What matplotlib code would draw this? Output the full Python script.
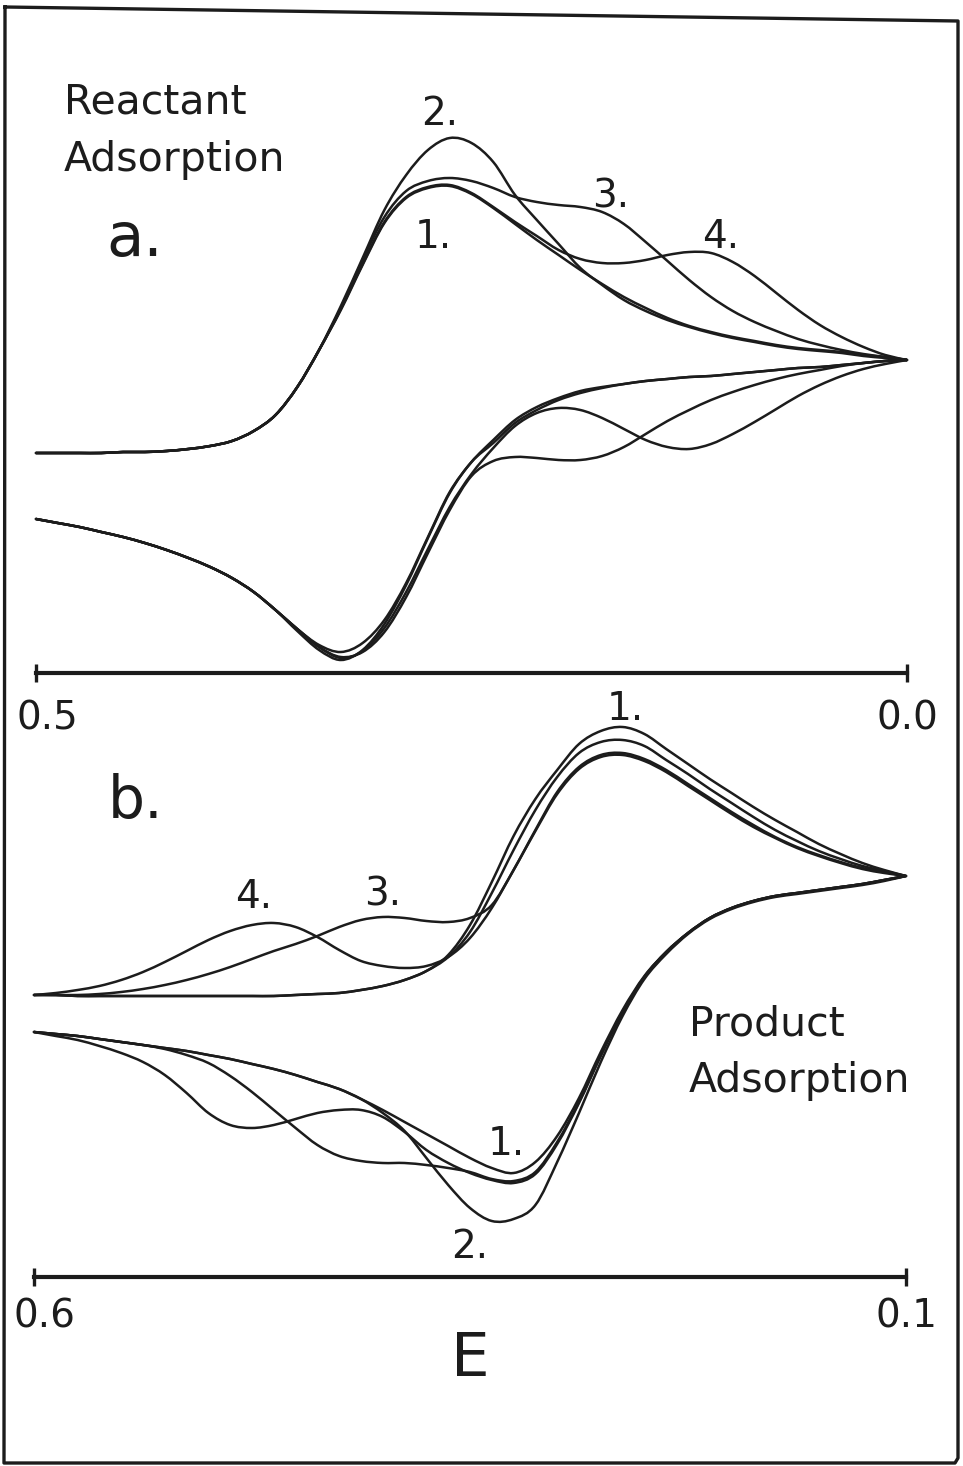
import numpy as np
import matplotlib
matplotlib.use("Agg")
import matplotlib.pyplot as plt
from matplotlib.lines import Line2D
from matplotlib.path import Path
from matplotlib.patches import PathPatch

plt.rcParams["font.family"] = ["DejaVu Sans"]

W, H, DPI = 963, 1466, 100
INK = "#1c1c1c"

# ---------------------------------------------------------------------------
# Potential sweep grids (V)
E_a = np.linspace(0.5, 0.0, 41)
E_b = np.linspace(0.6, 0.1, 41)

# (a) Reactant adsorption: current (arbitrary units), forward sweep 0.5 -> 0.0
a_fwd_1 = [-93, -93, -93, -93, -92, -92, -91, -89, -86, -81, -71, -55, -27, 10, 50, 95, 137, 162, 172, 174,
           166, 152, 136, 120, 105, 90, 76, 63, 52, 42, 34, 28, 23, 19, 15, 12, 10, 8, 5, 3, 0]
a_fwd_2 = [-93, -93, -93, -93, -92, -92, -91, -89, -86, -81, -71, -55, -27, 10, 54, 102, 150, 185, 210, 222,
           217, 198, 165, 140, 116, 92, 75, 60, 49, 40, 33, 27, 22, 18, 14, 11, 9, 7, 4, 2, 0]
a_fwd_3 = [-93, -93, -93, -93, -92, -92, -91, -89, -86, -81, -71, -55, -27, 10, 52, 100, 143, 169, 179, 182,
           179, 172, 163, 158, 155, 153, 148, 136, 118, 99, 80, 63, 49, 38, 29, 21, 15, 10, 6, 3, 0]
a_fwd_4 = [-93, -93, -93, -93, -92, -92, -91, -89, -86, -81, -71, -55, -27, 10, 51, 96, 138, 163, 173, 175,
           167, 153, 138, 124, 110, 101, 97, 97, 100, 105, 108, 107, 98, 84, 67, 50, 35, 23, 13, 5, 0]
# reverse sweep, listed on the same grid (0.5 -> 0.0)
a_rev_1 = [-159, -163, -167, -172, -177, -183, -190, -198, -207, -218, -232, -250, -269, -285, -292, -283,
           -260, -223, -177, -132, -102, -80, -60, -47, -38, -31, -27, -24, -21, -19, -17, -16, -14, -12,
           -10, -8, -7, -5, -3, -1, 0]
a_rev_2 = [-159, -163, -167, -172, -177, -183, -190, -198, -207, -218, -232, -250, -271, -290, -300, -290,
           -264, -225, -178, -133, -102, -83, -63, -50, -40, -33, -28, -24, -21, -19, -17, -16, -14, -12,
           -10, -8, -7, -5, -3, -1, 0]
a_rev_3 = [-159, -163, -167, -172, -177, -183, -190, -198, -207, -218, -232, -250, -269, -287, -297, -292,
           -272, -237, -193, -150, -116, -101, -97, -98, -100, -100, -96, -87, -74, -61, -50, -40, -32, -25,
           -19, -14, -10, -6, -3, -1, 0]
a_rev_4 = [-159, -163, -167, -172, -177, -183, -190, -198, -207, -218, -232, -250, -269, -287, -298, -291,
           -268, -232, -189, -147, -114, -88, -66, -53, -48, -50, -58, -69, -80, -87, -89, -84, -74, -62,
           -49, -36, -25, -16, -9, -4, 0]

# (b) Product adsorption: forward sweep 0.6 -> 0.1
b_fwd_1 = [-119, -119, -120, -120, -120, -120, -120, -120, -120, -120, -120, -120, -119, -118, -117, -114,
           -110, -104, -95, -79, -49, -6, 40, 77, 106, 132, 145, 149, 142, 127, 112, 97, 83, 69, 56, 44, 32,
           22, 13, 6, 0]
b_fwd_2 = [-119, -119, -120, -120, -120, -120, -120, -120, -120, -120, -120, -120, -119, -118, -117, -114,
           -110, -104, -95, -81, -56, -17, 26, 66, 99, 123, 134, 136, 130, 116, 102, 87, 73, 59, 46, 35, 25,
           17, 10, 5, 0]
b_fwd_3 = [-119, -119, -119, -118, -116, -113, -109, -104, -98, -91, -83, -75, -68, -60, -51, -44, -41, -42,
           -45, -46, -42, -29, 6, 46, 84, 109, 121, 123, 117, 106, 92, 78, 64, 51, 39, 29, 21, 14, 8, 4, 0]
b_fwd_4 = [-119, -117, -114, -110, -104, -96, -86, -75, -64, -55, -49, -47, -51, -61, -74, -85, -90, -92,
           -90, -81, -62, -32, 6, 45, 82, 107, 119, 121, 115, 104, 90, 76, 62, 49, 38, 28, 20, 13, 7, 3, 0]
b_rev_1 = [-156, -158, -160, -163, -166, -169, -172, -175, -179, -183, -188, -193, -199, -206, -213, -223,
           -234, -246, -258, -270, -282, -292, -297, -286, -260, -222, -176, -134, -100, -76, -57, -42, -32,
           -25, -20, -17, -14, -11, -8, -4, 0]
b_rev_2 = [-156, -158, -160, -163, -166, -169, -172, -175, -179, -183, -188, -193, -199, -206, -213, -223,
           -237, -255, -282, -309, -332, -345, -343, -329, -286, -237, -186, -140, -103, -78, -58, -43, -33,
           -26, -21, -18, -15, -12, -9, -5, 0]
b_rev_3 = [-156, -158, -160, -163, -166, -169, -173, -179, -187, -200, -216, -234, -252, -269, -280, -285,
           -287, -287, -289, -292, -296, -303, -305, -296, -266, -226, -179, -136, -101, -76, -57, -42, -32,
           -25, -20, -17, -14, -11, -8, -4, 0]
b_rev_4 = [-156, -160, -164, -170, -177, -186, -199, -217, -237, -249, -252, -249, -243, -237, -234, -234,
           -241, -256, -274, -287, -297, -304, -307, -298, -268, -227, -180, -136, -101, -76, -57, -42, -32,
           -25, -20, -17, -14, -11, -8, -4, 0]

ticks_a = [0.5, 0.0]
ticks_b = [0.6, 0.1]
tick_labels_a = ["0.5", "0.0"]
tick_labels_b = ["0.6", "0.1"]

# curve labels: (text, E, current)
labels_a = [("2.", 0.268, 235), ("1.", 0.272, 112), ("3.", 0.170, 152), ("4.", 0.107, 112)]
labels_b = [("1.", 0.261, 156), ("4.", 0.474, -32), ("3.", 0.400, -29), ("1.", 0.329, -279), ("2.", 0.350, -382)]

# ---------------------------------------------------------------------------
fig = plt.figure(figsize=(W / DPI, H / DPI), dpi=DPI)
fig.patch.set_facecolor("white")


def make_axes(e0, e1, x0, x1, zero_row):
    """Full-figure axes: potential e0/e1 sit at pixel columns x0/x1,
    zero current sits at pixel row zero_row, 1 current unit = 1 pixel."""
    ax = fig.add_axes([0, 0, 1, 1])
    ax.patch.set_visible(False)
    k = (e0 - e1) / (x1 - x0)
    ax.set_xlim(e0 + x0 * k, e0 - (W - x0) * k)
    ax.set_ylim(zero_row - H, zero_row)
    ax.set_autoscale_on(False)
    for s in ("top", "left", "right"):
        ax.spines[s].set_visible(False)
    ax.set_yticks([])
    return ax


def draw_axis(ax, ticks, labels, row, zero_row, label_row):
    sp = ax.spines["bottom"]
    sp.set_position(("data", zero_row - row))
    sp.set_bounds(ticks[0], ticks[-1])
    sp.set_linewidth(3.0)
    sp.set_color(INK)
    ax.set_xticks(ticks)
    ax.tick_params(axis="x", direction="inout", length=13, width=2.4, color=INK,
                   labelbottom=False)
    offs = [0.0063, 0.0]
    for t, lab, o in zip(ticks, labels, offs):
        ax.text(t - o, zero_row - label_row, lab, ha="center", va="baseline",
                fontsize=28, color=INK)


def smooth_segments(pts):
    """Cubic Bezier pieces (Catmull-Rom tangents) through the given points."""
    n = len(pts)
    verts, codes = [], []
    for j in range(n - 1):
        p0 = pts[max(j - 1, 0)]
        p1 = pts[j]
        p2 = pts[j + 1]
        p3 = pts[min(j + 2, n - 1)]
        c1 = p1 + (p2 - p0) / 6.0
        c2 = p2 - (p3 - p1) / 6.0
        verts += [c1, c2, p2]
        codes += [Path.CURVE4] * 3
    return verts, codes


def draw_cycles(ax, E, fwds, revs):
    E = np.asarray(E, dtype=float)
    for f, r in zip(fwds, revs):
        fwd = np.column_stack([E, np.asarray(f, dtype=float)])
        rev = np.column_stack([E[::-1], np.asarray(r, dtype=float)[::-1]])
        verts, codes = [fwd[0]], [Path.MOVETO]
        v, c = smooth_segments(fwd)
        verts += v
        codes += c
        v, c = smooth_segments(rev)
        verts += v
        codes += c
        patch = PathPatch(Path(np.array(verts), codes), facecolor="none", edgecolor=INK,
                          lw=1.8, joinstyle="round", capstyle="round")
        ax.add_patch(patch)


# panel a
ax_a = make_axes(0.5, 0.0, 36, 907, 360)
draw_cycles(ax_a, E_a, [a_fwd_1, a_fwd_2, a_fwd_3, a_fwd_4], [a_rev_1, a_rev_2, a_rev_3, a_rev_4])
draw_axis(ax_a, ticks_a, tick_labels_a, 673, 360, 730)
for txt, e, i in labels_a:
    ax_a.text(e, i, txt, ha="center", va="baseline", fontsize=28, color=INK)

# panel b
ax_b = make_axes(0.6, 0.1, 34, 906, 876)
draw_cycles(ax_b, E_b, [b_fwd_1, b_fwd_2, b_fwd_3, b_fwd_4], [b_rev_1, b_rev_2, b_rev_3, b_rev_4])
draw_axis(ax_b, ticks_b, tick_labels_b, 1277, 876, 1327)
for txt, e, i in labels_b:
    ax_b.text(e, i, txt, ha="center", va="baseline", fontsize=28, color=INK)
ax_b.text(0.35, 876 - 1376, "E", ha="center", va="baseline", fontsize=44, color=INK)


def fpx(x, y):
    return x / W, 1 - y / H


fig.text(*fpx(64, 114), "Reactant", ha="left", va="baseline", fontsize=29.5, color=INK)
fig.text(*fpx(64, 171), "Adsorption", ha="left", va="baseline", fontsize=29.5, color=INK)
fig.text(*fpx(106, 256), "a.", ha="left", va="baseline", fontsize=44, color=INK)
fig.text(*fpx(108, 818), "b.", ha="left", va="baseline", fontsize=42, color=INK)
fig.text(*fpx(689, 1036), "Product", ha="left", va="baseline", fontsize=29.5, color=INK)
fig.text(*fpx(689, 1092), "Adsorption", ha="left", va="baseline", fontsize=29.5, color=INK)

# hand-drawn border
bx = [5, 958, 958, 955, 4, 5]
by = [7, 21, 1458, 1463, 1463, 7]
fig.add_artist(Line2D([x / W for x in bx], [1 - y / H for y in by], transform=fig.transFigure,
                      color=INK, lw=2.4, solid_joinstyle="round"))

fig.savefig("out.png", dpi=DPI, facecolor="white")
